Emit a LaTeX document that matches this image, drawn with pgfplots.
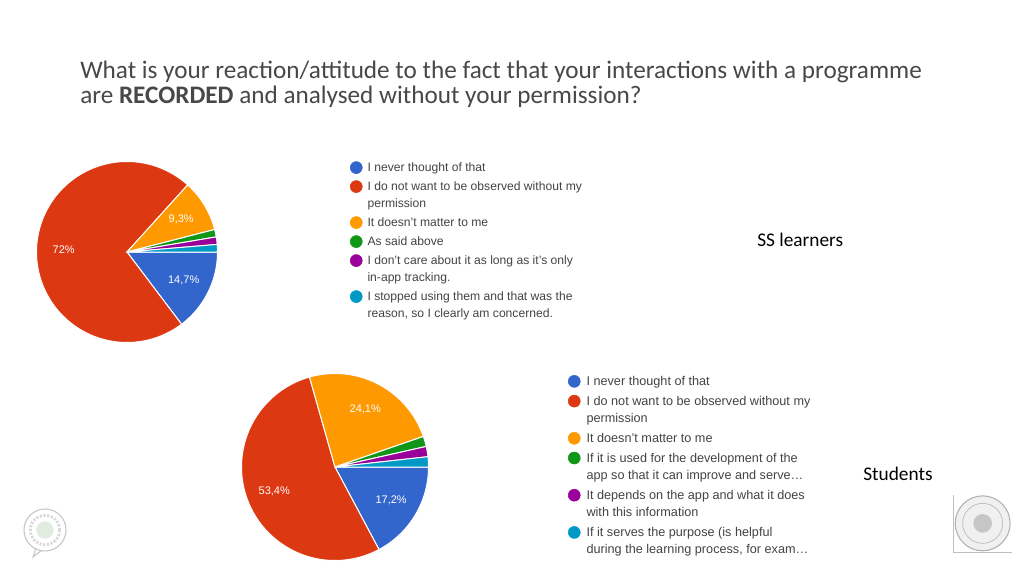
\documentclass[border=0pt]{standalone}
\usepackage{pgfplots}
\pgfplotsset{compat=1.18}
\usepackage{pgfplotstable}
\usepackage{fontspec}
\setmainfont{Liberation Sans}
\newfontfamily\carlito{Carlito}

\definecolor{c0}{HTML}{3366CC}
\definecolor{c1}{HTML}{DC3912}
\definecolor{c2}{HTML}{FF9900}
\definecolor{c3}{HTML}{109618}
\definecolor{c4}{HTML}{990099}
\definecolor{c5}{HTML}{0099C6}
\definecolor{legtext}{HTML}{444444}
\definecolor{titletext}{HTML}{484848}

% SS learners
\pgfplotstableread{
value
14.7
72
9.3
1.33
1.33
1.34
}\sstable

% Students
\pgfplotstableread{
value
17.2
53.4
24.1
1.77
1.77
1.76
}\sttable

\newcommand\pielabelfont{\fontsize{8.25}{10}\selectfont}
\newcommand\legfontA{\fontsize{9.1}{12.75}\selectfont}
\newcommand\legfontB{\fontsize{9.5}{13.1}\selectfont}
\newcommand\lgent[1]{\strut#1\strut}
\newcommand\twol[2]{\vtop{\hbox{\strut#1}\hbox{#2\strut}}}

\newcommand\drawpie[1]{%
  \gdef\curang{0}%
  \pgfplotsforeachungrouped \pieidx in {0,...,5}{%
    \pgfplotstablegetelem{\pieidx}{value}\of{#1}%
    \let\val\pgfplotsretval
    \pgfmathsetmacro\endang{\curang-3.6*\val}%
    \pgfmathsetmacro\midang{(\curang+\endang)/2}%
    \edef\temp{\noexpand\addplot[forget plot, fill=c\pieidx, draw=white, line width=0.75pt, domain=\endang:\curang, samples=90] ({cos(x)},{sin(x)}) -- (axis cs:0,0) -- cycle;}%
    \temp
    \pgfmathparse{\val>5}%
    \ifdim\pgfmathresult pt>0.5pt
      \edef\temp{\noexpand\node[font=\noexpand\pielabelfont, text=white] at (axis cs:{0.7*cos(\midang)},{0.7*sin(\midang)}) {\noexpand\pgfmathprintnumber[use comma, fixed, precision=1, assume math mode=true]{\val}\noexpand\%};}%
      \temp
    \fi
    \global\let\curang\endang
  }%
}

\pgfplotsset{
  piestyle/.style={hide axis, scale only axis, xmin=-1, xmax=1, ymin=-1, ymax=1, clip=false, anchor=origin,
    legend image code/.code={\fill[##1] (4.5pt,3pt) circle[radius=4.5pt];},
    legend cell align=left},
}

\begin{document}
\begin{tikzpicture}
\useasboundingbox[fill=white] (0pt,0pt) rectangle (768pt,432pt);

% title
\node[anchor=base west, inner sep=0pt, font=\carlito\fontsize{18.9}{18.75}\selectfont, text=titletext, align=left] at (60pt,354.4pt)
  {What is your reaction/attitude to the fact that your interactions with a programme\\are {\bfseries RECORDED} and analysed without your permission?};

% SS learners pie
\begin{axis}[piestyle, width=135.75pt, height=135.75pt, at={(95.25pt,243pt)},
  legend style={draw=none, fill=none, inner sep=0pt, outer sep=0pt, at={(1.732,1.01)}, anchor=north west,
    font=\legfontA, text=legtext, row sep=1.5pt, column sep=3.75pt,
    nodes={inner sep=0pt, text depth=}, cells={anchor=base west}}]
\addlegendimage{c0}\addlegendentry{\lgent{I never thought of that}}
\addlegendimage{c1}\addlegendentry{\twol{I do not want to be observed without my}{permission}}
\addlegendimage{c2}\addlegendentry{\lgent{It doesn’t matter to me}}
\addlegendimage{c3}\addlegendentry{\lgent{As said above}}
\addlegendimage{c4}\addlegendentry{\twol{I don't care about it as long as it's only}{in-app tracking.}}
\addlegendimage{c5}\addlegendentry{\twol{I stopped using them and that was the}{reason, so I clearly am concerned.}}
\drawpie{\sstable}
\end{axis}

% Students pie
\begin{axis}[piestyle, width=140.25pt, height=140.25pt, at={(251.25pt,81.75pt)},
  legend style={draw=none, fill=none, inner sep=0pt, outer sep=0pt, at={(1.746,1.002)}, anchor=north west,
    font=\legfontB, text=legtext, row sep=1.7pt, column sep=4.5pt,
    nodes={inner sep=0pt, text depth=}, cells={anchor=base west}}]
\addlegendimage{c0}\addlegendentry{\lgent{I never thought of that}}
\addlegendimage{c1}\addlegendentry{\twol{I do not want to be observed without my}{permission}}
\addlegendimage{c2}\addlegendentry{\lgent{It doesn’t matter to me}}
\addlegendimage{c3}\addlegendentry{\twol{If it is used for the development of the}{app so that it can improve and serve…}}
\addlegendimage{c4}\addlegendentry{\twol{It depends on the app and what it does}{with this information}}
\addlegendimage{c5}\addlegendentry{\twol{If it serves the purpose (is helpful}{during the learning process, for exam…}}
\drawpie{\sttable}
\end{axis}

% group labels
\node[anchor=base west, inner sep=0pt, font=\carlito\fontsize{14.5}{16}\selectfont, text=black] at (567.75pt,247.5pt) {SS learners};
\node[anchor=base west, inner sep=0pt, font=\carlito\fontsize{14.5}{16}\selectfont, text=black] at (647.25pt,71.6pt) {Students};

% logos (decorative)
\draw[gray!45, line width=0.8pt] (27pt,21pt) -- (24.75pt,14.25pt) -- (31.5pt,19.5pt);
\draw[gray!45, line width=0.8pt, fill=white] (33.75pt,34.5pt) circle[radius=15.75pt];
\draw[gray!30, line width=2.2pt, dash pattern=on 1.6pt off 1.2pt] (33.75pt,34.5pt) circle[radius=11pt];
\fill[green!25!gray!20] (33.75pt,34.5pt) circle[radius=6.5pt];
\draw[gray!50, line width=0.5pt] (714.75pt,60.75pt) -- (714.75pt,18pt) -- (759pt,18pt);
\draw[gray!60, line width=0.8pt, fill=gray!12] (737pt,39.5pt) circle[radius=20.6pt];
\draw[gray!55, line width=0.5pt] (737pt,39.5pt) circle[radius=15pt];
\fill[gray!45] (737pt,39.5pt) circle[radius=7pt];
\end{tikzpicture}
\end{document}
